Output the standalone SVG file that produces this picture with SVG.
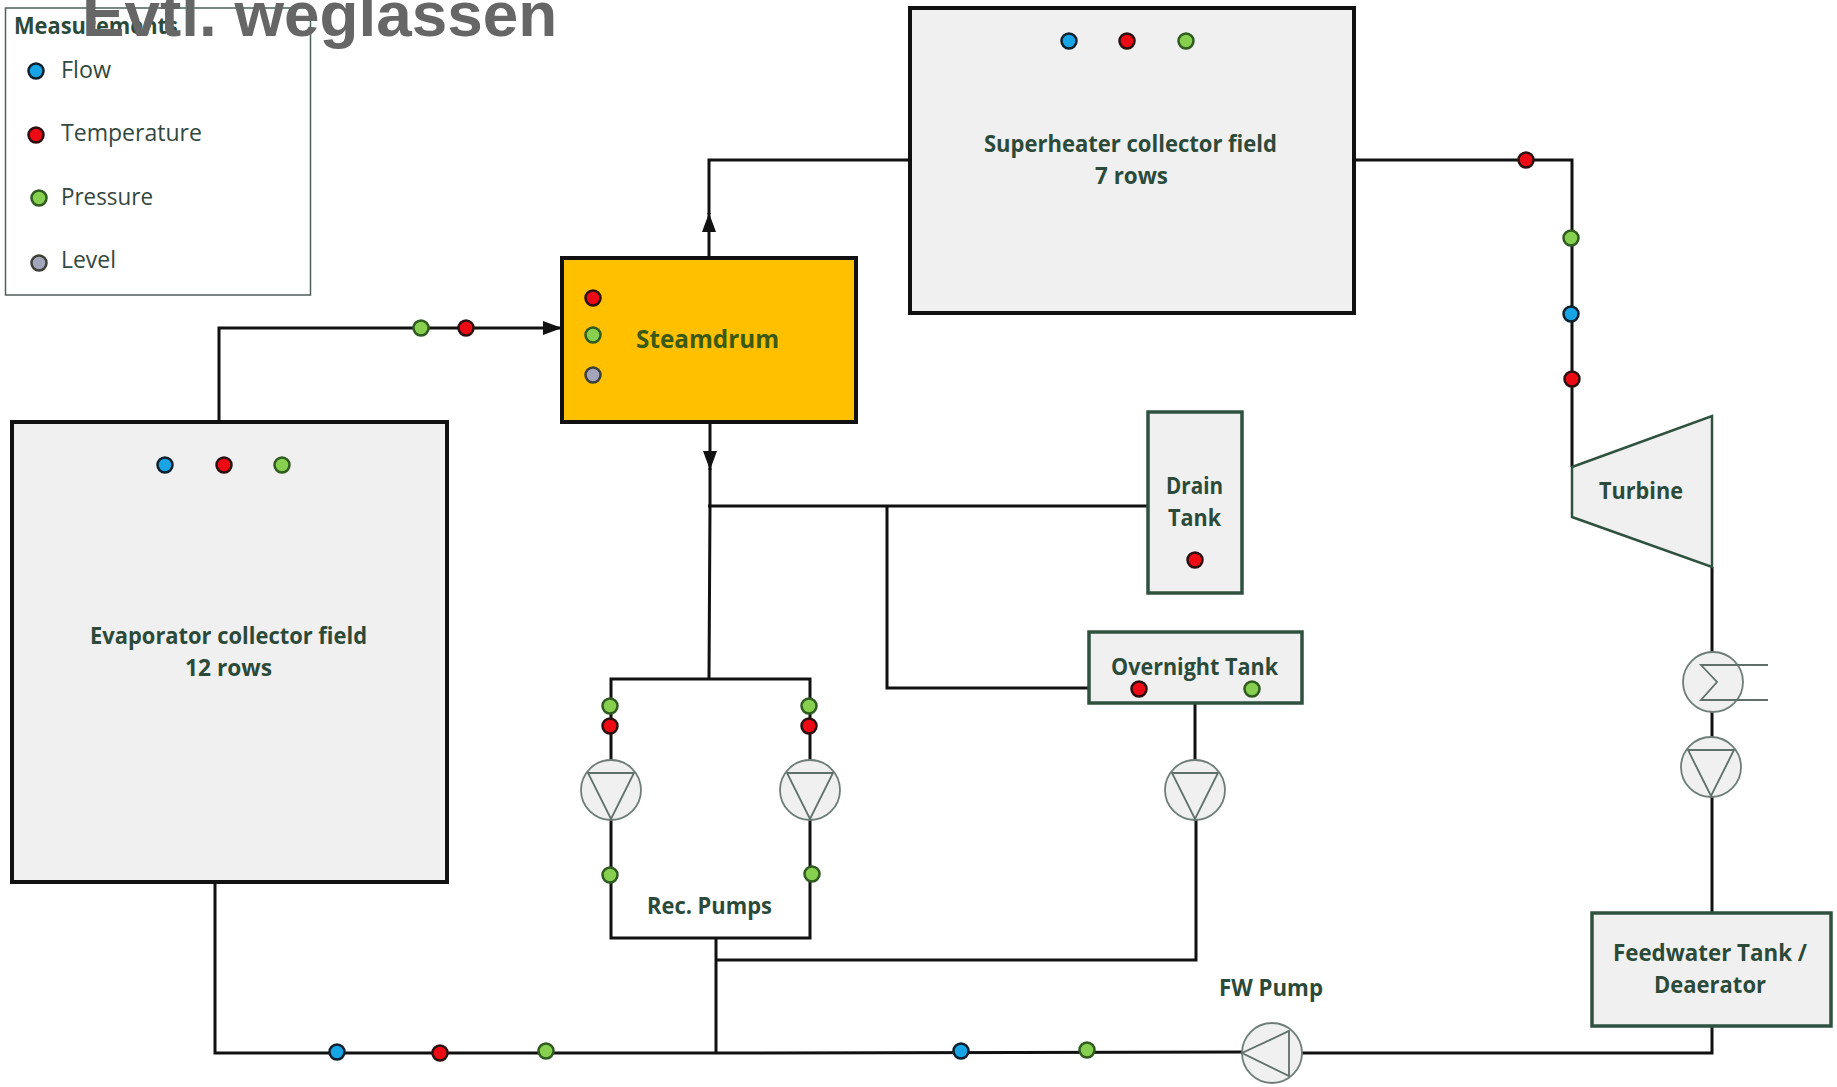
<svg xmlns="http://www.w3.org/2000/svg" width="1837" height="1087" viewBox="0 0 1837 1087">
<style>
.t{font-family:"Open Sans","Noto Sans",sans-serif;font-weight:700;font-size:23px;fill:#2c4a3a}
.l{font-family:"Open Sans","Noto Sans",sans-serif;font-weight:400;font-size:23px;fill:#33483f}
.box{fill:#f0f0f0;stroke:#111;stroke-width:4}
.gbox{fill:#f0f0f0;stroke:#2f5240;stroke-width:3.5}
.c{fill:none;stroke:#111;stroke-width:3}
.sym{fill:#f0f0f0;stroke:#6f7d78;stroke-width:1.8}
.ln{fill:none;stroke:#5f6f69;stroke-width:1.8}
.f{fill:#18a5e6;stroke:#10202c;stroke-width:2.500}
.r{fill:#ee0a14;stroke:#2a1010;stroke-width:2.500}
.p{fill:#86cf4f;stroke:#2f5a20;stroke-width:2.500}
.v{fill:#a3a6ba;stroke:#3d4038;stroke-width:2.500}
circle.f,circle.r,circle.p,circle.v{r:7.500px}
</style>
<defs>
<marker id="arr" markerUnits="userSpaceOnUse" markerWidth="20" markerHeight="14" refX="19" refY="7" orient="auto"><path d="M0 0L19 7L0 14Z" fill="#111"/></marker>
<g id="pump"><circle r="30" class="sym"/><path d="M-23 -17H23L0 29Z" class="ln"/></g>
</defs>
<rect width="1837" height="1087" fill="#fff"/>
<g id="connectors">
<path class="c" d="M219 422V328H562" marker-end="url(#arr)"/>
<path class="c" d="M709 258V213" marker-end="url(#arr)"/>
<path class="c" d="M709 214V160H909"/>
<path class="c" d="M1354 160H1572V467"/>
<path class="c" d="M710 422V470" marker-end="url(#arr)"/>
<path class="c" d="M710 468V506L709 679"/>
<path class="c" d="M708 506H1148"/>
<path class="c" d="M887 506V688H1089"/>
<path class="c" d="M611 790V679H810V938H611Z"/>
<path class="c" d="M1195 703V760M1196 820V960H715M716 938V1053"/>
<path class="c" d="M215 882V1053H715L1242 1052"/>
<path class="c" d="M1302 1053H1712V1026"/>
<path class="c" d="M1712 567V652M1712 712V737M1712 797V913"/>
</g>
<g id="legend">
<rect x="5.500" y="8" width="305" height="287" fill="#fff" stroke="#4f5f5c" stroke-width="1.500"/>
<text class="t" x="14" y="34" textLength="164" lengthAdjust="spacingAndGlyphs">Measurements</text>
<circle class="f" cx="36" cy="71"/><text class="l" x="61" y="78" textLength="50" lengthAdjust="spacingAndGlyphs">Flow</text>
<circle class="r" cx="36" cy="135"/><text class="l" x="61" y="141" textLength="141" lengthAdjust="spacingAndGlyphs">Temperature</text>
<circle class="p" cx="39" cy="198"/><text class="l" x="61" y="205" textLength="92" lengthAdjust="spacingAndGlyphs">Pressure</text>
<circle class="v" cx="39" cy="263"/><text class="l" x="61" y="268" textLength="55" lengthAdjust="spacingAndGlyphs">Level</text>
</g>
<g id="superheater">
<rect class="box" x="910" y="8" width="444" height="305"/>
<circle class="f" cx="1069" cy="41"/><circle class="r" cx="1127" cy="41"/><circle class="p" cx="1186" cy="41"/>
<text class="t" x="984" y="152" textLength="293" lengthAdjust="spacingAndGlyphs">Superheater collector field</text>
<text class="t" x="1095" y="184" textLength="73" lengthAdjust="spacingAndGlyphs">7 rows</text>
</g>
<g id="evaporator">
<rect class="box" x="12" y="422" width="435" height="460"/>
<circle class="f" cx="165" cy="465"/><circle class="r" cx="224" cy="465"/><circle class="p" cx="282" cy="465"/>
<text class="t" x="90" y="644" textLength="277" lengthAdjust="spacingAndGlyphs">Evaporator collector field</text>
<text class="t" x="185" y="676" textLength="87" lengthAdjust="spacingAndGlyphs">12 rows</text>
</g>
<g id="steamdrum">
<rect x="562" y="258" width="294" height="164" fill="#ffc000" stroke="#111" stroke-width="4"/>
<circle class="r" cx="593" cy="298"/><circle class="p" cx="593" cy="335"/><circle class="v" cx="593" cy="375"/>
<text class="t" x="636" y="348" textLength="143" lengthAdjust="spacingAndGlyphs" style="fill:#3a5a14;font-size:25px">Steamdrum</text>
</g>
<g id="drain-tank">
<rect class="gbox" x="1148" y="412" width="94" height="181"/>
<text class="t" x="1166" y="494" textLength="57" lengthAdjust="spacingAndGlyphs">Drain</text>
<text class="t" x="1168" y="526" textLength="53" lengthAdjust="spacingAndGlyphs">Tank</text>
<circle class="r" cx="1195" cy="560"/>
</g>
<g id="overnight-tank">
<rect class="gbox" x="1089" y="632" width="213" height="71"/>
<text class="t" x="1111" y="675" textLength="167" lengthAdjust="spacingAndGlyphs">Overnight Tank</text>
<circle class="r" cx="1139" cy="689"/><circle class="p" cx="1252" cy="689"/>
</g>
<g id="feedwater-tank">
<rect class="gbox" x="1592" y="913" width="239" height="113"/>
<text class="t" x="1613" y="961" textLength="194" lengthAdjust="spacingAndGlyphs">Feedwater Tank /</text>
<text class="t" x="1654" y="993" textLength="112" lengthAdjust="spacingAndGlyphs">Deaerator</text>
</g>
<g id="turbine">
<path d="M1572 467L1712 416V567L1572 517Z" fill="#f0f0f0" stroke="#2f5240" stroke-width="2.500"/>
<text class="t" x="1599" y="499" textLength="84" lengthAdjust="spacingAndGlyphs">Turbine</text>
</g>
<g id="heat-exchanger">
<circle class="sym" cx="1713" cy="682" r="30"/>
<path class="ln" d="M1768 665H1701L1717 682L1701 700H1768"/>
</g>
<use id="pump-feedwater" href="#pump" x="1711" y="767"/>
<g id="rec-pumps">
<use href="#pump" x="611" y="790"/><use href="#pump" x="810" y="790"/>
<text class="t" x="647" y="914" textLength="125" lengthAdjust="spacingAndGlyphs">Rec. Pumps</text>
</g>
<use id="pump-overnight" href="#pump" x="1195" y="790"/>
<g id="fw-pump">
<circle class="sym" cx="1272" cy="1053" r="30"/>
<path class="ln" d="M1289 1031V1076L1242 1053Z"/>
<text class="t" x="1219" y="996" textLength="104" lengthAdjust="spacingAndGlyphs">FW Pump</text>
</g>
<g id="measurements">
<circle class="p" cx="421" cy="328"/><circle class="r" cx="466" cy="328"/>
<circle class="r" cx="1526" cy="160"/><circle class="p" cx="1571" cy="238"/><circle class="f" cx="1571" cy="314"/><circle class="r" cx="1572" cy="379"/>
<circle class="p" cx="610" cy="706"/><circle class="r" cx="610" cy="726"/>
<circle class="p" cx="809" cy="706"/><circle class="r" cx="809" cy="726"/>
<circle class="p" cx="610" cy="875"/><circle class="p" cx="812" cy="874"/>
<circle class="f" cx="337" cy="1052"/><circle class="r" cx="440" cy="1053"/><circle class="p" cx="546" cy="1051"/>
<circle class="f" cx="961" cy="1051"/><circle class="p" cx="1087" cy="1050"/>
</g>
<text id="title" x="82" y="36" font-family="'Liberation Sans',Arial,sans-serif" font-weight="700" font-size="63.800" fill="#666">Evtl. weglassen</text>
</svg>
